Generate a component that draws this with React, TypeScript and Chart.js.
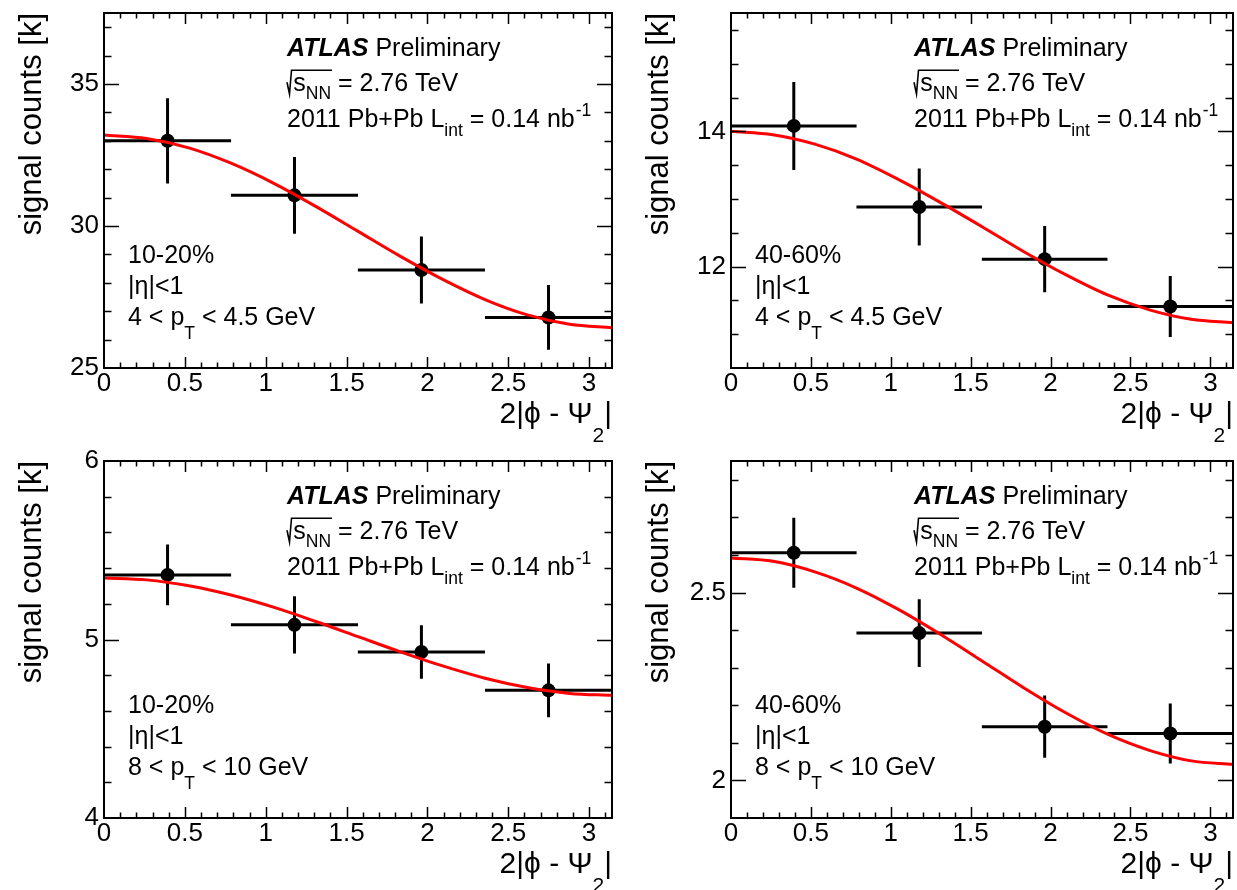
import React, { useEffect, useRef } from 'react';
import { Chart, registerables } from 'chart.js';

Chart.register(...registerables);

const FONT = "'Liberation Sans', Arial, Helvetica, sans-serif";

// ---------- shared x data ----------
const binCenters = [0.393, 1.178, 1.963, 2.749];
const binHalfWidths = [0.393, 0.393, 0.393, 0.393];
const xRange = [0, 3.1416];
const xTickLabels = [0, 0.5, 1, 1.5, 2, 2.5, 3];
const xMinorStep = 0.1;
const fitX = [0, 0.262, 0.524, 0.785, 1.047, 1.309, 1.571, 1.833, 2.094, 2.356, 2.618, 2.88, 3.142];

// ---------- texts ----------
const yTitle = 'signal counts [k]';
const xTitleMain = '2|ϕ - Ψ';
const xTitleSub = '2';
const xTitleTail = '|';
const atlasBold = 'ATLAS';
const atlasRest = ' Preliminary';
const energyS = 's';
const energySub = 'NN';
const energyRest = ' = 2.76 TeV';
const lumiA = '2011 Pb+Pb L';
const lumiSub = 'int';
const lumiB = ' = 0.14 nb';
const lumiSup = '-1';
const etaText = '|η|<1';

// ---------- top-left: 10-20%, 4 < pT < 4.5 GeV ----------
const countsTL = [33.0, 31.08, 28.45, 26.78];
const errorsTL = [1.5, 1.35, 1.18, 1.14];
const fitTL = [33.2, 33.08, 32.75, 32.21, 31.51, 30.69, 29.81, 28.93, 28.12, 27.41, 26.87, 26.54, 26.42];
const yTicksTL = [25, 30, 35];
const yRangeTL = [25, 37.5];
const yMinorTL = 1;
const centralityTL = '10-20%';
const ptTL = ['4', '4.5'];

// ---------- top-right: 40-60%, 4 < pT < 4.5 GeV ----------
const countsTR = [14.08, 12.88, 12.11, 11.41];
const errorsTR = [0.65, 0.57, 0.49, 0.45];
const fitTR = [14.0, 13.95, 13.81, 13.59, 13.29, 12.95, 12.59, 12.22, 11.88, 11.58, 11.36, 11.22, 11.17];
const yTicksTR = [12, 14];
const yRangeTR = [10.5, 15.75];
const yMinorTR = 0.5;
const centralityTR = '40-60%';
const ptTR = ['4', '4.5'];

// ---------- bottom-left: 10-20%, 8 < pT < 10 GeV ----------
const countsBL = [5.362, 5.082, 4.93, 4.715];
const errorsBL = [0.17, 0.16, 0.15, 0.15];
const fitBL = [5.345, 5.334, 5.301, 5.249, 5.181, 5.101, 5.016, 4.931, 4.852, 4.783, 4.731, 4.698, 4.687];
const yTicksBL = [4, 5, 6];
const yRangeBL = [4, 6];
const yMinorBL = 0.2;
const centralityBL = '10-20%';
const ptBL = ['8', '10'];

// ---------- bottom-right: 40-60%, 8 < pT < 10 GeV ----------
const countsBR = [2.606, 2.392, 2.143, 2.125];
const errorsBR = [0.093, 0.09, 0.083, 0.08];
const fitBR = [2.592, 2.583, 2.555, 2.512, 2.455, 2.389, 2.318, 2.246, 2.18, 2.123, 2.08, 2.052, 2.043];
const yTicksBR = [2, 2.5];
const yRangeBR = [1.9, 2.85];
const yMinorBR = 0.1;
const centralityBR = '40-60%';
const ptBR = ['8', '10'];

type PanelData = {
  counts: number[];
  errors: number[];
  fit: number[];
  yTicks: number[];
  yRange: number[];
  yMinor: number;
  centrality: string;
  pt: string[];
};

type Layout = {
  left: number;
  top: number;
  width: number;
  height: number;
  area: { left: number; right: number; top: number; bottom: number };
};

const panels: { id: string; d: PanelData; l: Layout }[] = [
  {
    id: 'tl',
    d: { counts: countsTL, errors: errorsTL, fit: fitTL, yTicks: yTicksTL, yRange: yRangeTL, yMinor: yMinorTL, centrality: centralityTL, pt: ptTL },
    l: { left: 0, top: 0, width: 620, height: 445, area: { left: 104, right: 612, top: 13, bottom: 368 } },
  },
  {
    id: 'tr',
    d: { counts: countsTR, errors: errorsTR, fit: fitTR, yTicks: yTicksTR, yRange: yRangeTR, yMinor: yMinorTR, centrality: centralityTR, pt: ptTR },
    l: { left: 620, top: 0, width: 620, height: 445, area: { left: 111, right: 619, top: 13, bottom: 368 } },
  },
  {
    id: 'bl',
    d: { counts: countsBL, errors: errorsBL, fit: fitBL, yTicks: yTicksBL, yRange: yRangeBL, yMinor: yMinorBL, centrality: centralityBL, pt: ptBL },
    l: { left: 0, top: 445, width: 620, height: 445, area: { left: 104, right: 612, top: 16, bottom: 373 } },
  },
  {
    id: 'br',
    d: { counts: countsBR, errors: errorsBR, fit: fitBR, yTicks: yTicksBR, yRange: yRangeBR, yMinor: yMinorBR, centrality: centralityBR, pt: ptBR },
    l: { left: 620, top: 445, width: 620, height: 445, area: { left: 111, right: 619, top: 16, bottom: 373 } },
  },
];

function line(ctx: CanvasRenderingContext2D, x1: number, y1: number, x2: number, y2: number) {
  ctx.moveTo(x1, y1);
  ctx.lineTo(x2, y2);
}

function makeDecor(d: PanelData) {
  return {
    id: 'decor',
    beforeDatasetsDraw(chart: any) {
      const ctx: CanvasRenderingContext2D = chart.ctx;
      const xs = chart.scales.x;
      const ys = chart.scales.y;
      const a = chart.chartArea;
      ctx.save();
      ctx.beginPath();
      ctx.rect(a.left, a.top, a.right - a.left, a.bottom - a.top);
      ctx.clip();
      ctx.strokeStyle = '#000';
      ctx.lineWidth = 3;
      ctx.lineCap = 'butt';
      ctx.beginPath();
      binCenters.forEach((c, i) => {
        const px = xs.getPixelForValue(c);
        const py = ys.getPixelForValue(d.counts[i]);
        line(ctx, xs.getPixelForValue(c - binHalfWidths[i]), py, xs.getPixelForValue(c + binHalfWidths[i]), py);
        line(ctx, px, ys.getPixelForValue(d.counts[i] + d.errors[i]), px, ys.getPixelForValue(d.counts[i] - d.errors[i]));
      });
      ctx.stroke();
      ctx.restore();
    },
    afterDatasetsDraw(chart: any) {
      const ctx: CanvasRenderingContext2D = chart.ctx;
      const xs = chart.scales.x;
      const ys = chart.scales.y;
      const a = chart.chartArea;
      ctx.save();
      ctx.strokeStyle = '#000';
      ctx.lineWidth = 1.5;
      ctx.beginPath();
      const nX = Math.round((xRange[1] - xRange[0]) / xMinorStep);
      for (let i = 1; i <= nX; i++) {
        const v = xRange[0] + i * xMinorStep;
        if (v >= xRange[1]) break;
        const px = Math.round(xs.getPixelForValue(v)) + 0.5;
        const major = xTickLabels.some((t) => Math.abs(t - v) < 1e-6);
        const L = major ? 11 : 5.5;
        line(ctx, px, a.bottom, px, a.bottom - L);
        line(ctx, px, a.top, px, a.top + L);
      }
      const nY = Math.round((d.yRange[1] - d.yRange[0]) / d.yMinor);
      for (let i = 1; i <= nY; i++) {
        const v = d.yRange[0] + i * d.yMinor;
        if (v >= d.yRange[1] - 1e-6) break;
        const py = Math.round(ys.getPixelForValue(v)) + 0.5;
        const major = d.yTicks.some((t) => Math.abs(t - v) < 1e-6);
        const L = major ? 15 : 7.5;
        line(ctx, a.left, py, a.left + L, py);
        line(ctx, a.right, py, a.right - L, py);
      }
      ctx.stroke();
      ctx.lineWidth = 2;
      ctx.strokeRect(a.left, a.top, a.right - a.left, a.bottom - a.top);
      ctx.restore();
    },
    afterDraw(chart: any) {
      const ctx: CanvasRenderingContext2D = chart.ctx;
      const a = chart.chartArea;
      ctx.save();
      ctx.fillStyle = '#000';
      ctx.strokeStyle = '#000';
      ctx.textBaseline = 'alphabetic';
      ctx.textAlign = 'left';

      // y title
      ctx.save();
      ctx.translate(a.left - 63, a.top);
      ctx.rotate(-Math.PI / 2);
      ctx.textAlign = 'right';
      ctx.font = `31px ${FONT}`;
      ctx.fillText(yTitle, 0, 0);
      ctx.restore();

      // x title
      const tf = 30;
      const tfs = 21;
      ctx.font = `${tf}px ${FONT}`;
      const wMain = ctx.measureText(xTitleMain).width;
      const wTail = ctx.measureText(xTitleTail).width;
      ctx.font = `${tfs}px ${FONT}`;
      const wSub = ctx.measureText(xTitleSub).width;
      const xb = a.bottom + 55;
      let x0 = a.right - (wMain + wSub + wTail);
      ctx.font = `${tf}px ${FONT}`;
      ctx.fillText(xTitleMain, x0, xb);
      x0 += wMain;
      ctx.font = `${tfs}px ${FONT}`;
      ctx.fillText(xTitleSub, x0, xb + 19);
      x0 += wSub;
      ctx.font = `${tf}px ${FONT}`;
      ctx.fillText(xTitleTail, x0, xb);

      // ATLAS block
      const f = 25;
      const fs = 17.5;
      const ax = a.left + 183;
      let yb = a.top + 43;
      x0 = ax;
      ctx.font = `italic bold ${f}px ${FONT}`;
      ctx.fillText(atlasBold, x0, yb);
      x0 += ctx.measureText(atlasBold).width;
      ctx.font = `${f}px ${FONT}`;
      ctx.fillText(atlasRest, x0, yb);

      // sqrt(s_NN) line
      yb = a.top + 78;
      x0 = ax;
      const sx = x0 + 0.25 * f;
      ctx.font = `${f}px ${FONT}`;
      const wS = ctx.measureText(energyS).width;
      ctx.font = `${fs}px ${FONT}`;
      const wNN = ctx.measureText(energySub).width;
      const endOver = sx + wS + wNN + 1;
      ctx.lineWidth = 1.6;
      ctx.beginPath();
      ctx.moveTo(x0, yb - 0.35 * f);
      ctx.lineTo(x0 + 0.1 * f, yb + 0.12 * f);
      ctx.lineTo(x0 + 0.18 * f, yb - 0.83 * f);
      ctx.lineTo(endOver, yb - 0.83 * f);
      ctx.stroke();
      ctx.font = `${f}px ${FONT}`;
      ctx.fillText(energyS, sx, yb);
      ctx.font = `${fs}px ${FONT}`;
      ctx.fillText(energySub, sx + wS, yb + 8);
      ctx.font = `${f}px ${FONT}`;
      ctx.fillText(energyRest, sx + wS + wNN, yb);

      // luminosity line
      yb = a.top + 114;
      x0 = ax;
      ctx.font = `${f}px ${FONT}`;
      ctx.fillText(lumiA, x0, yb);
      x0 += ctx.measureText(lumiA).width;
      ctx.font = `${fs}px ${FONT}`;
      ctx.fillText(lumiSub, x0, yb + 9);
      x0 += ctx.measureText(lumiSub).width;
      ctx.font = `${f}px ${FONT}`;
      ctx.fillText(lumiB, x0, yb);
      x0 += ctx.measureText(lumiB).width;
      ctx.font = `${fs}px ${FONT}`;
      ctx.fillText(lumiSup, x0 + 1, yb - 11);

      // lower-left block
      const lx = a.left + 24;
      ctx.font = `${f}px ${FONT}`;
      ctx.fillText(d.centrality, lx, a.bottom - 105);
      ctx.fillText(etaText, lx, a.bottom - 74);
      yb = a.bottom - 43;
      x0 = lx;
      const p1 = `${d.pt[0]} < p`;
      ctx.fillText(p1, x0, yb);
      x0 += ctx.measureText(p1).width;
      ctx.font = `${fs}px ${FONT}`;
      ctx.fillText('T', x0, yb + 14);
      x0 += ctx.measureText('T').width;
      ctx.font = `${f}px ${FONT}`;
      ctx.fillText(` < ${d.pt[1]} GeV`, x0, yb);

      ctx.restore();
    },
  };
}

function Panel({ d, l }: { d: PanelData; l: Layout }) {
  const ref = useRef<HTMLCanvasElement>(null);
  useEffect(() => {
    const canvas = ref.current;
    if (!canvas) return;
    const yAxisWidth = l.area.left;
    const xAxisHeight = l.height - l.area.bottom;
    const chart = new Chart(canvas, {
      type: 'scatter',
      data: {
        datasets: [
          {
            type: 'line',
            data: fitX.map((x, i) => ({ x, y: d.fit[i] })),
            borderColor: '#ff0000',
            borderWidth: 3,
            pointRadius: 0,
            fill: false,
            cubicInterpolationMode: 'monotone',
            order: 0,
          } as any,
          {
            type: 'scatter',
            data: binCenters.map((x, i) => ({ x, y: d.counts[i] })),
            backgroundColor: '#000',
            borderColor: '#000',
            borderWidth: 0,
            pointRadius: 7,
            order: 1,
          } as any,
        ],
      },
      options: {
        responsive: false,
        animation: false,
        devicePixelRatio: 1,
        events: [],
        layout: {
          padding: { left: 0, top: l.area.top, right: l.width - l.area.right, bottom: 0 },
        },
        plugins: { legend: { display: false }, tooltip: { enabled: false } },
        scales: {
          x: {
            type: 'linear',
            min: xRange[0],
            max: xRange[1],
            grid: { display: false, drawTicks: false },
            border: { display: false },
            afterBuildTicks: (s: any) => {
              s.ticks = xTickLabels.map((v) => ({ value: v }));
            },
            afterFit: (s: any) => {
              s.height = xAxisHeight;
              s.paddingLeft = 0;
              s.paddingRight = 0;
            },
            ticks: {
              color: '#000',
              padding: 0,
              autoSkip: false,
              maxRotation: 0,
              minRotation: 0,
              font: { family: FONT, size: 26, lineHeight: 1.2 },
              callback: (v: any) => String(v),
            },
          },
          y: {
            type: 'linear',
            min: d.yRange[0],
            max: d.yRange[1],
            grid: { display: false, drawTicks: false },
            border: { display: false },
            afterBuildTicks: (s: any) => {
              s.ticks = d.yTicks.map((v) => ({ value: v }));
            },
            afterFit: (s: any) => {
              s.width = yAxisWidth;
              s.paddingTop = 0;
              s.paddingBottom = 0;
            },
            ticks: {
              color: '#000',
              padding: 5,
              autoSkip: false,
              font: { family: FONT, size: 26, lineHeight: 1.2 },
              callback: (v: any) => String(v),
            },
          },
        },
      } as any,
      plugins: [makeDecor(d)],
    });
    return () => chart.destroy();
  }, [d, l]);
  return (
    <canvas
      ref={ref}
      width={l.width}
      height={l.height}
      style={{ position: 'absolute', left: l.left, top: l.top, width: l.width, height: l.height }}
    />
  );
}

export default function App() {
  return (
    <div
      style={{
        position: 'absolute',
        left: 0,
        top: 0,
        width: 1237,
        height: 890,
        overflow: 'hidden',
        background: '#fff',
      }}
    >
      {panels.map((p) => (
        <Panel key={p.id} d={p.d} l={p.l} />
      ))}
    </div>
  );
}
